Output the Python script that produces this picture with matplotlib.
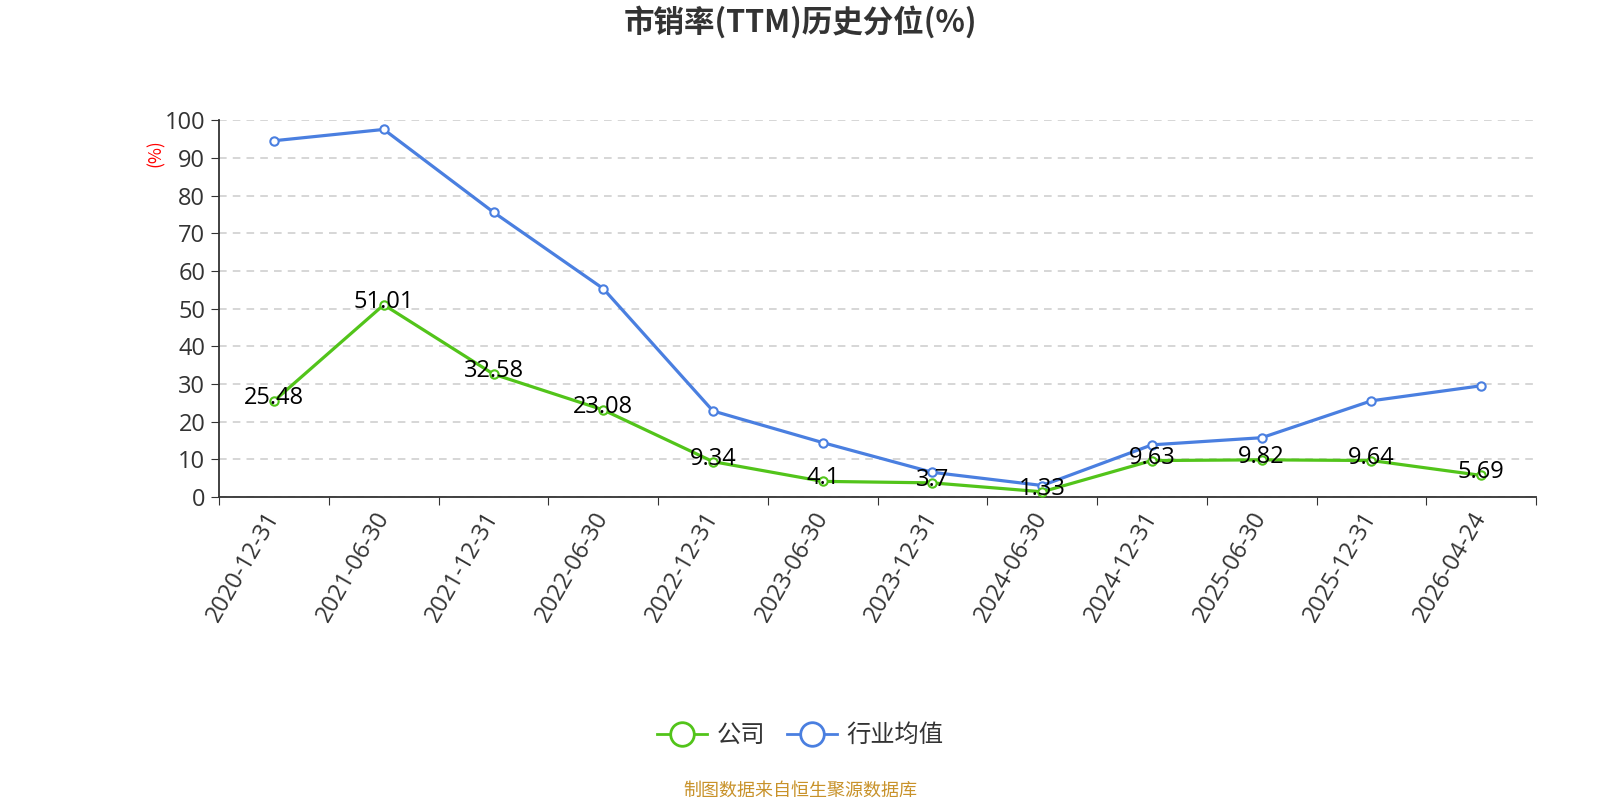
import matplotlib
matplotlib.use('Agg')
import matplotlib.pyplot as plt
import numpy as np
from matplotlib.lines import Line2D

plt.rcParams['font.family'] = ['Noto Sans CJK SC', 'DejaVu Sans']
plt.rcParams['axes.unicode_minus'] = False

# 数据
dates = ['2020-12-31', '2021-06-30', '2021-12-31', '2022-06-30', '2022-12-31',
         '2023-06-30', '2023-12-31', '2024-06-30', '2024-12-31', '2025-06-30',
         '2025-12-31', '2026-04-24']
company = [25.48, 51.01, 32.58, 23.08, 9.34, 4.1, 3.7, 1.33, 9.63, 9.82, 9.64, 5.69]
industry = [94.6, 97.6, 75.6, 55.3, 22.8, 14.4, 6.5, 3.0, 13.8, 15.7, 25.5, 29.5]
company_labels = ['25.48', '51.01', '32.58', '23.08', '9.34', '4.1', '3.7', '1.33',
                  '9.63', '9.82', '9.64', '5.69']

green = '#52c41a'
blue = '#4a7fe0'
num_font = ['Open Sans', 'DejaVu Sans']

fig = plt.figure(figsize=(16, 8), dpi=100)
ax = fig.add_axes([0.137, 0.379, 0.823, 0.4705])

x = np.arange(len(dates))
ax.plot(x, industry, color=blue, lw=2.3, marker='o', ms=6,
        markerfacecolor='white', markeredgewidth=1.5, zorder=3)
ax.plot(x, company, color=green, lw=2.3, marker='o', ms=6,
        markerfacecolor='white', markeredgewidth=1.5, zorder=4)

for xi, v, s in zip(x, company, company_labels):
    ax.text(xi, v + 0.8, s, ha='center', va='center', fontsize=17,
            color='black', zorder=5, family=num_font)

ax.set_xlim(-0.5, len(dates) - 0.5)
ax.set_ylim(0, 100)
ax.set_yticks(np.arange(0, 101, 10))
ax.set_yticklabels([str(v) for v in range(0, 101, 10)], family=num_font,
                   fontsize=17, color='#333333')
ax.set_xticks(np.arange(-0.5, len(dates), 1), minor=False)
ax.set_xticklabels([])
ax.set_xticks(x, minor=True)
ax.set_xticklabels(dates, minor=True, rotation=60, ha='right', va='center',
                   rotation_mode='anchor', fontsize=17, color='#333333',
                   family=num_font)
ax.tick_params(axis='x', which='minor', length=0, pad=12)
ax.tick_params(axis='x', which='major', length=6, color='#333333')
ax.tick_params(axis='y', length=6, color='#333333', pad=4)

ax.grid(axis='y', linestyle=(0, (5, 4)), color='#cccccc', lw=1.1)
ax.set_axisbelow(True)
for sp in ['top', 'right']:
    ax.spines[sp].set_visible(False)
ax.spines['left'].set_color('#333333')
ax.spines['bottom'].set_color('#333333')
ax.spines['left'].set_linewidth(1.3)
ax.spines['bottom'].set_linewidth(1.3)

fig.text(0.0976, 0.808, '(%)', color='red', rotation=90, fontsize=12.5,
         ha='center', va='center')

fig.text(0.5, 0.972, '市销率(TTM)历史分位(%)', ha='center', va='center',
         fontsize=22, fontweight='bold', color='#333333')

handles = [
    Line2D([0], [0], color=green, lw=2, marker='o', ms=17,
           markerfacecolor='white', markeredgewidth=2),
    Line2D([0], [0], color=blue, lw=2, marker='o', ms=17,
           markerfacecolor='white', markeredgewidth=2),
]
fig.legend(handles, ['公司', '行业均值'], loc='center', bbox_to_anchor=(0.5, 0.081),
           ncol=2, frameon=False, fontsize=17.5, handlelength=2.05,
           columnspacing=0.9, handletextpad=0.4, labelcolor='#333333')

fig.text(0.5, 0.012, '制图数据来自恒生聚源数据库', ha='center', va='center',
         fontsize=13, color='#c8922a')

fig.savefig('out.png', dpi=100)
